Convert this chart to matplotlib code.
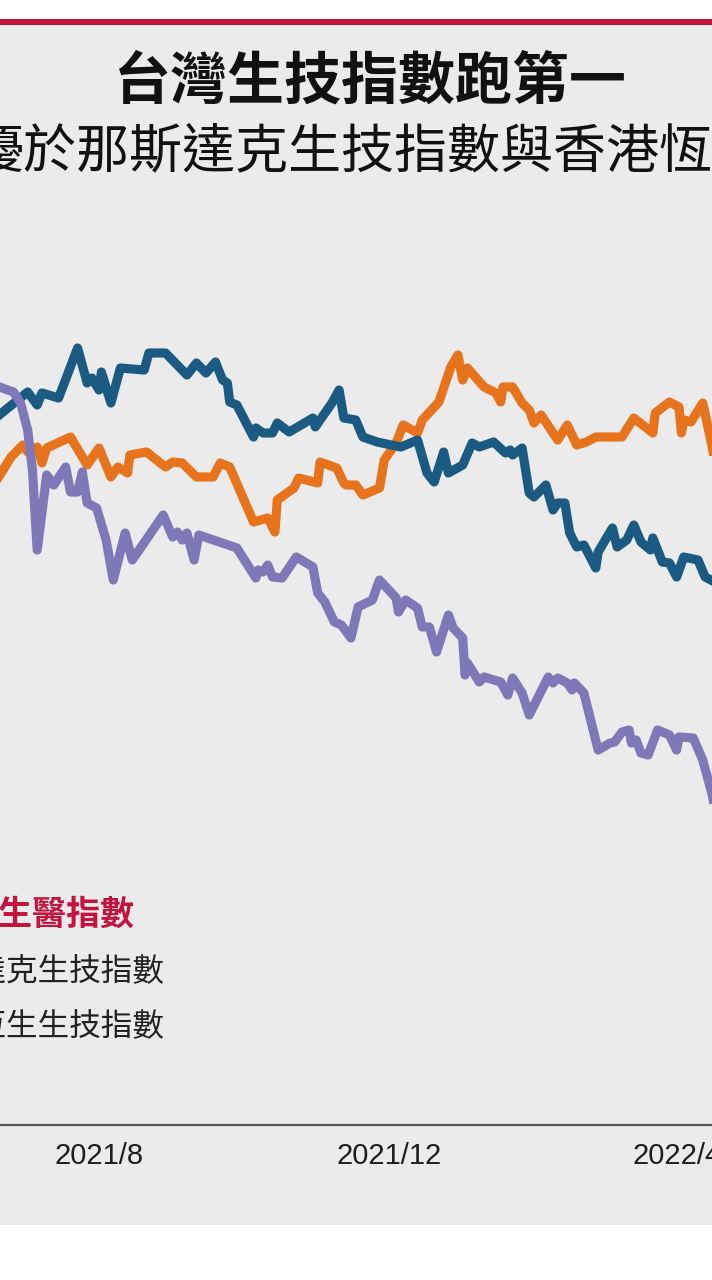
import matplotlib
matplotlib.use('Agg')
import matplotlib.pyplot as plt
import matplotlib.dates as mdates
from matplotlib.patches import Rectangle
import pandas as pd

# 那斯達克生技指數 (blue)
nasdaq_fechas = [
    '2021-06-19', '2021-07-02', '2021-07-06', '2021-07-08', '2021-07-15', '2021-07-23',
    '2021-07-27', '2021-07-29', '2021-08-01', '2021-08-02', '2021-08-06', '2021-08-10',
    '2021-08-20', '2021-08-22', '2021-08-29', '2021-09-07', '2021-09-11', '2021-09-15',
    '2021-09-19', '2021-09-22', '2021-09-24', '2021-09-25', '2021-09-28', '2021-10-05',
    '2021-10-06', '2021-10-09', '2021-10-13', '2021-10-15', '2021-10-20', '2021-10-30',
    '2021-10-31', '2021-11-02', '2021-11-07', '2021-11-10', '2021-11-12', '2021-11-17',
    '2021-11-20', '2021-11-26', '2021-12-06', '2021-12-13', '2021-12-17', '2021-12-20',
    '2021-12-24', '2021-12-26', '2022-01-01', '2022-01-05', '2022-01-08', '2022-01-14',
    '2022-01-19', '2022-01-21', '2022-01-22', '2022-01-26', '2022-01-29', '2022-01-31',
    '2022-02-05', '2022-02-08', '2022-02-10', '2022-02-13', '2022-02-15', '2022-02-18',
    '2022-02-21', '2022-02-26', '2022-02-27', '2022-03-05', '2022-03-07', '2022-03-11',
    '2022-03-14', '2022-03-17', '2022-03-21', '2022-03-22', '2022-03-26', '2022-03-29',
    '2022-04-01', '2022-04-04', '2022-04-10', '2022-04-13', '2022-04-17',
]
nasdaq_valores = [
    141.6, 146.6, 144.0, 146.4, 145.4, 155.4,
    148.4, 149.4, 147.0, 150.6, 144.4, 151.4,
    151.0, 154.4, 154.4, 150.0, 152.4, 150.4,
    152.6, 149.0, 148.4, 144.6, 144.0, 137.6,
    139.4, 138.4, 138.4, 140.4, 138.6, 141.4,
    139.6, 141.0, 144.4, 147.0, 141.4, 141.0,
    137.6, 136.6, 135.6, 137.0, 130.4, 128.6,
    134.6, 130.4, 132.0, 136.4, 135.6, 136.6,
    134.4, 135.0, 134.0, 135.4, 126.4, 125.6,
    128.0, 123.0, 124.4, 124.4, 118.4, 115.6,
    116.0, 111.4, 114.6, 119.4, 115.6, 117.0,
    120.0, 116.6, 115.0, 117.4, 112.6, 112.4,
    109.6, 113.6, 113.0, 109.6, 108.6,
]

# 台灣生醫指數 (orange)
taiwan_fechas = [
    '2021-06-19', '2021-06-25', '2021-06-30', '2021-07-02', '2021-07-06', '2021-07-08',
    '2021-07-10', '2021-07-20', '2021-07-27', '2021-08-01', '2021-08-06', '2021-08-09',
    '2021-08-13', '2021-08-14', '2021-08-21', '2021-08-29', '2021-09-01', '2021-09-05',
    '2021-09-11', '2021-09-18', '2021-09-21', '2021-09-25', '2021-10-05', '2021-10-11',
    '2021-10-14', '2021-10-15', '2021-10-22', '2021-10-24', '2021-11-01', '2021-11-02',
    '2021-11-09', '2021-11-12', '2021-11-13', '2021-11-17', '2021-11-20', '2021-11-27',
    '2021-11-29', '2021-12-04', '2021-12-07', '2021-12-13', '2021-12-15', '2021-12-22',
    '2021-12-27', '2021-12-30', '2022-01-01', '2022-01-03', '2022-01-10', '2022-01-15',
    '2022-01-17', '2022-01-18', '2022-01-22', '2022-01-26', '2022-01-29', '2022-01-31',
    '2022-02-03', '2022-02-10', '2022-02-14', '2022-02-18', '2022-02-22', '2022-02-26',
    '2022-03-09', '2022-03-14', '2022-03-22', '2022-03-23', '2022-03-29', '2022-04-02',
    '2022-04-03', '2022-04-04', '2022-04-07', '2022-04-12', '2022-04-16', '2022-04-17',
]
taiwan_valores = [
    129.0, 133.6, 136.0, 134.6, 135.6, 132.4,
    135.4, 137.6, 132.0, 135.4, 129.6, 131.6,
    130.4, 134.0, 134.6, 131.6, 132.6, 132.4,
    129.6, 129.6, 132.4, 131.6, 120.6, 121.4,
    118.6, 125.0, 127.4, 129.4, 128.4, 132.6,
    131.4, 128.4, 128.0, 128.0, 126.0, 127.4,
    133.0, 136.4, 140.0, 138.4, 141.0, 144.6,
    151.6, 154.0, 149.0, 151.4, 147.6, 146.4,
    144.6, 147.6, 147.6, 144.4, 143.0, 140.4,
    142.0, 137.0, 140.0, 136.0, 136.6, 137.6,
    137.6, 141.4, 138.4, 142.4, 144.6, 143.6,
    138.4, 141.0, 140.6, 144.4, 135.6, 133.0,
]

# 香港恆生生技指數 (purple)
hk_fechas = [
    '2021-06-19', '2021-06-26', '2021-06-29', '2021-07-02', '2021-07-04', '2021-07-06',
    '2021-07-10', '2021-07-13', '2021-07-18', '2021-07-20', '2021-07-23', '2021-07-25',
    '2021-07-27', '2021-07-31', '2021-08-04', '2021-08-07', '2021-08-12', '2021-08-15',
    '2021-08-28', '2021-09-01', '2021-09-03', '2021-09-05', '2021-09-07', '2021-09-10',
    '2021-09-12', '2021-09-28', '2021-10-06', '2021-10-07', '2021-10-09', '2021-10-11',
    '2021-10-13', '2021-10-17', '2021-10-23', '2021-10-30', '2021-11-01', '2021-11-04',
    '2021-11-08', '2021-11-11', '2021-11-15', '2021-11-18', '2021-11-24', '2021-11-27',
    '2021-12-04', '2021-12-05', '2021-12-08', '2021-12-13', '2021-12-15', '2021-12-18',
    '2021-12-21', '2021-12-26', '2021-12-28', '2022-01-01', '2022-01-02', '2022-01-03',
    '2022-01-08', '2022-01-10', '2022-01-17', '2022-01-20', '2022-01-22', '2022-01-26',
    '2022-01-29', '2022-02-06', '2022-02-08', '2022-02-10', '2022-02-14', '2022-02-16',
    '2022-02-17', '2022-02-21', '2022-02-27', '2022-03-04', '2022-03-06', '2022-03-09',
    '2022-03-12', '2022-03-13', '2022-03-15', '2022-03-17', '2022-03-20', '2022-03-24',
    '2022-03-29', '2022-04-01', '2022-04-02', '2022-04-08', '2022-04-12', '2022-04-16',
    '2022-04-17',
]
hk_valores = [
    147.8, 146.6, 144.4, 139.0, 131.0, 115.0,
    130.0, 128.0, 131.6, 126.6, 126.6, 130.6,
    124.4, 123.4, 117.0, 109.0, 118.4, 113.0,
    122.0, 117.6, 118.6, 117.0, 118.4, 113.0,
    118.0, 115.4, 109.4, 111.0, 110.6, 112.0,
    109.6, 109.4, 113.6, 111.6, 106.4, 104.6,
    100.6, 100.0, 97.4, 103.6, 105.0, 109.0,
    105.4, 102.6, 105.0, 103.4, 99.6, 99.6,
    94.6, 102.0, 99.4, 97.4, 90.0, 92.4,
    88.6, 89.6, 88.6, 86.0, 89.4, 86.4,
    82.0, 89.6, 88.4, 89.4, 88.4, 87.0,
    88.4, 86.4, 75.0, 76.4, 76.6, 78.6,
    79.0, 76.4, 77.0, 74.4, 74.0, 79.0,
    78.0, 75.0, 77.6, 77.4, 73.0, 66.0,
    63.4,
]

tick_fechas = ['2021-08-01', '2021-12-01', '2022-04-01']
tick_etiquetas = ['2021/8', '2021/12', '2022/4']

titulo = '台灣生技指數跑第一'
subtitulo = '優於那斯達克生技指數與香港恆生生技指數'
leyenda = ['台灣生醫指數', '那斯達克生技指數', '香港恆生生技指數']

plt.rcParams['font.family'] = ['Noto Sans CJK TC', 'DejaVu Sans']

W, H = 712, 1280
fig = plt.figure(figsize=(W / 100, H / 100), dpi=100)
fig.patch.set_facecolor('white')

# background panel and red top rule
fig.add_artist(Rectangle((0, 1 - 1225 / H), 1, 1200 / H, transform=fig.transFigure,
                         facecolor='#ebebeb', edgecolor='none', zorder=-2))
fig.add_artist(Rectangle((0, 1 - 25 / H), 1, 6 / H, transform=fig.transFigure,
                         facecolor='#c0143c', edgecolor='none', zorder=-1))

ax = fig.add_axes([0, 1 - 1125 / H, 1, 900 / H])
ax.patch.set_alpha(0)

ax.plot(pd.to_datetime(taiwan_fechas), taiwan_valores, color='#e8731d', lw=6.6,
        solid_joinstyle='round', zorder=2)
ax.plot(pd.to_datetime(nasdaq_fechas), nasdaq_valores, color='#1b5a82', lw=6.6,
        solid_joinstyle='round', zorder=3)
ax.plot(pd.to_datetime(hk_fechas), hk_valores, color='#7f78b8', lw=6.6,
        solid_joinstyle='round', zorder=4)

# x range: the picture is a crop, 2021/8 sits at x=99 px, ~2.377 px per day
base = mdates.date2num(pd.Timestamp('2021-08-01'))
ppd = 2.377
ax.set_xlim(base - 99 / ppd, base + (W - 99) / ppd)
ax.set_ylim(0, 180)

ax.set_xticks(pd.to_datetime(tick_fechas))
ax.set_xticklabels(tick_etiquetas, fontfamily='Liberation Sans', fontsize=21, color='#1e1e1e')
ax.tick_params(axis='x', length=0, pad=12)
ax.set_yticks([])
for s in ['top', 'left', 'right']:
    ax.spines[s].set_visible(False)
ax.spines['bottom'].set_color('#555555')
ax.spines['bottom'].set_linewidth(1.6)

# titles
fig.text(370 / W, 1 - 82 / H, titulo, ha='center', va='center', fontsize=41,
         fontweight='black', color='#111111')
fig.text(-30 / W, 1 - 152 / H, subtitulo, ha='left', va='center', fontsize=38.2,
         color='#111111')

# legend text
fig.text(-69 / W, 1 - 914 / H, leyenda[0], ha='left', va='center', fontsize=24.5,
         fontweight='black', color='#c4133c')
fig.text(-88 / W, 1 - 973 / H, leyenda[1], ha='left', va='center', fontsize=22.8,
         color='#222222')
fig.text(-88 / W, 1 - 1027 / H, leyenda[2], ha='left', va='center', fontsize=22.8,
         color='#222222')

fig.savefig('out.png', dpi=100)
